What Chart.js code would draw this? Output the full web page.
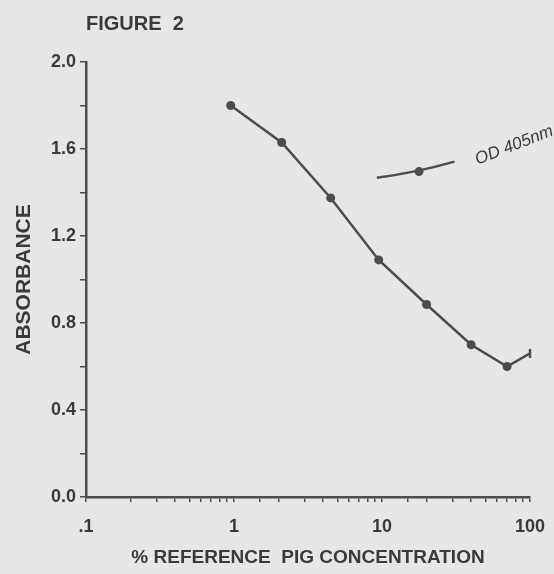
<!DOCTYPE html>
<html>
<head>
<meta charset="utf-8">
<script src="https://cdn.jsdelivr.net/npm/chart.js@4/dist/chart.umd.min.js"></script>
<style>
  html, body { margin: 0; padding: 0; background: #e6e6e4; }
  #wrap { width: 554px; height: 574px; position: relative; }
</style>
</head>
<body>
<div id="wrap"><canvas id="fig"></canvas></div>
<script>
// % reference pig concentration (log axis) and absorbance at 405 nm
const concentration = [0.95, 2.1, 4.5, 9.5, 20, 40, 70, 100];
const absorbance = [1.80, 1.63, 1.375, 1.09, 0.885, 0.70, 0.60, 0.66];
const xLabels = { 0.1: ".1", 1: "1", 10: "10", 100: "100" };
const yMajorStep = 0.4;

const ink = "#3a3a3a";
const lineInk = "#4c4c4c";
const fontFamily = "'Liberation Sans', Arial, Helvetica, sans-serif";

// legend drawn inside the plot, like the printed figure
const insideLegend = {
  id: "insideLegend",
  afterDraw(chart) {
    const { ctx, chartArea: a } = chart;
    const w = a.right - a.left, h = a.bottom - a.top;
    const x0 = a.left + w * 0.655, y0 = a.top + h * 0.266;
    const x1 = a.left + w * 0.83, y1 = a.top + h * 0.229;
    ctx.save();
    ctx.strokeStyle = lineInk;
    ctx.lineWidth = 2.5;
    ctx.beginPath();
    ctx.moveTo(x0, y0);
    ctx.quadraticCurveTo((x0 + x1) / 2, (y0 + y1) / 2 + 3, x1, y1);
    ctx.stroke();
    ctx.fillStyle = lineInk;
    ctx.beginPath();
    ctx.arc(a.left + w * 0.75, a.top + h * 0.252, 4.5, 0, Math.PI * 2);
    ctx.fill();
    ctx.translate(a.left + w * 0.882, a.top + h * 0.236);
    ctx.rotate(-0.37);
    ctx.font = "italic 17px " + fontFamily;
    ctx.fillStyle = ink;
    ctx.textBaseline = "alphabetic";
    ctx.fillText("OD 405nm", 0, 0);
    ctx.restore();
  }
};

new Chart(document.getElementById("fig"), {
  type: "line",
  data: {
    datasets: [{
      label: "OD 405nm",
      data: concentration.map((c, i) => ({ x: c, y: absorbance[i] })),
      borderColor: lineInk,
      backgroundColor: lineInk,
      borderWidth: 2.5,
      tension: 0,
      pointRadius: 4.5,
      pointHoverRadius: 4.5,
      pointStyle: (c) => c.dataIndex === concentration.length - 1 ? "line" : "circle",
      rotation: (c) => c.dataIndex === concentration.length - 1 ? 90 : 0,
      pointBorderWidth: (c) => c.dataIndex === concentration.length - 1 ? 2.5 : 0,
      pointBorderColor: lineInk,
      clip: false
    }]
  },
  options: {
    responsive: true,
    maintainAspectRatio: false,
    animation: false,
    layout: { padding: { left: 0, right: 24, top: 0, bottom: 0 } },
    scales: {
      x: {
        type: "logarithmic",
        min: 0.1,
        max: 100,
        afterFit: (s) => { s.height = 77; s.paddingLeft = 0; s.paddingRight = 0; },
        border: { display: true, color: lineInk, width: 2.5 },
        grid: { display: true, drawOnChartArea: false, drawTicks: true, tickLength: 5, color: lineInk, lineWidth: 1.5 },
        ticks: {
          autoSkip: false,
          maxRotation: 0,
          padding: 14,
          color: ink,
          font: { family: fontFamily, size: 18, weight: "bold" },
          callback: (v) => xLabels[v] !== undefined ? xLabels[v] : ""
        },
        title: {
          display: true,
          text: "% REFERENCE  PIG CONCENTRATION",
          color: ink,
          font: { family: fontFamily, size: 19, weight: "bold" },
          padding: { top: 0, bottom: 5 }
        }
      },
      y: {
        min: 0,
        max: 2.0,
        afterFit: (s) => { s.width = 86; },
        border: { display: true, color: lineInk, width: 2.5 },
        grid: { display: true, drawOnChartArea: false, drawTicks: true, tickLength: 6, color: lineInk, lineWidth: 1.5 },
        ticks: {
          stepSize: 0.2,
          padding: 4,
          color: ink,
          font: { family: fontFamily, size: 18, weight: "bold" },
          callback: (v) => Math.abs(v / yMajorStep - Math.round(v / yMajorStep)) < 1e-6 ? v.toFixed(1) : ""
        },
        title: {
          display: true,
          text: "ABSORBANCE",
          color: ink,
          font: { family: fontFamily, size: 21, weight: "bold" },
          padding: { top: 12, bottom: 0 }
        }
      }
    },
    plugins: {
      legend: { display: false },
      tooltip: { enabled: false },
      title: {
        display: true,
        text: "FIGURE  2",
        align: "start",
        fullSize: false,
        color: ink,
        font: { family: fontFamily, size: 20, weight: "bold" },
        padding: { top: 12, bottom: 26 }
      }
    }
  },
  plugins: [insideLegend]
});
</script>
</body>
</html>
